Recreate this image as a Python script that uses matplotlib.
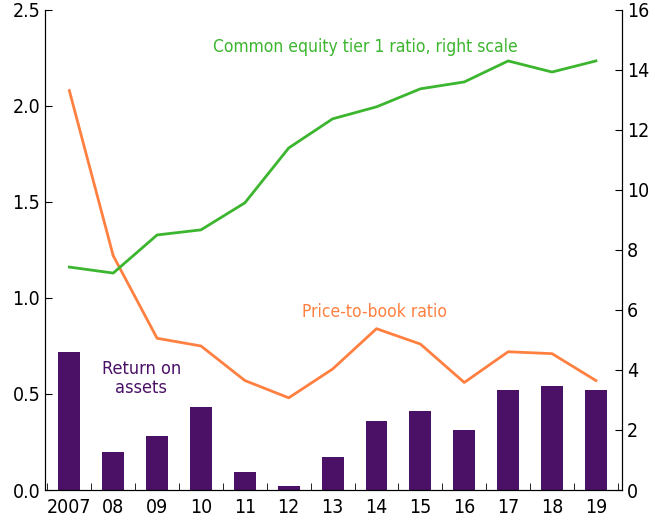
import matplotlib
matplotlib.use("Agg")
import matplotlib.pyplot as plt
import numpy as np

plt.rcParams['font.family'] = ['DejaVu Sans']
plt.rcParams['font.stretch'] = 'condensed'

years = ['2007', '08', '09', '10', '11', '12', '13', '14', '15', '16', '17', '18', '19']
roa = [0.72, 0.20, 0.28, 0.43, 0.095, 0.02, 0.17, 0.36, 0.41, 0.31, 0.52, 0.54, 0.52]
pb = [2.08, 1.22, 0.79, 0.75, 0.57, 0.48, 0.63, 0.84, 0.76, 0.56, 0.72, 0.71, 0.57]
cet1 = [7.43, 7.23, 8.5, 8.67, 9.57, 11.4, 12.37, 12.77, 13.37, 13.6, 14.3, 13.93, 14.3]

purple = '#4a1166'
orange = '#ff8040'
green = '#3cb52f'

fig = plt.figure(figsize=(6.55, 5.22), dpi=100)
ax = fig.add_axes([0.069, 0.0613, 0.881, 0.9197])
x = np.arange(len(years))
ax.bar(x, roa, width=0.5, color=purple, zorder=2)
ax.plot(x, pb, color=orange, lw=2, zorder=3)
ax.set_ylim(0, 2.5)
ax.set_xlim(-0.55, 12.6)
ax.set_yticks([0, 0.5, 1.0, 1.5, 2.0, 2.5])
ax.set_yticklabels(['0.0', '0.5', '1.0', '1.5', '2.0', '2.5'])
ax.set_xticks(x)
ax.set_xticklabels(years)
ax.set_xticks(np.arange(-0.5, 12.6, 1), minor=True)
ax.tick_params(axis='x', which='major', length=0, labelsize=14, pad=6)
ax.tick_params(axis='x', which='minor', direction='in', length=5)
ax.tick_params(axis='y', direction='in', length=5, labelsize=14)
ax.spines['top'].set_visible(False)

ax2 = ax.twinx()
ax2.plot(x, cet1, color=green, lw=2, zorder=3)
ax2.set_ylim(0, 16)
ax2.set_yticks([0, 2, 4, 6, 8, 10, 12, 14, 16])
ax2.tick_params(axis='y', direction='in', length=5, labelsize=14)
ax2.spines['top'].set_visible(False)

ax.text(6.74, 2.307, 'Common equity tier 1 ratio, right scale', color=green,
        fontsize=12.5, ha='center', va='center')
ax.text(6.96, 0.927, 'Price-to-book ratio', color=orange,
        fontsize=12.5, ha='center', va='center')
ax.text(1.64, 0.58, 'Return on\nassets', color=purple,
        fontsize=13, ha='center', va='center', linespacing=1.05)

fig.savefig('out.png', dpi=100)
